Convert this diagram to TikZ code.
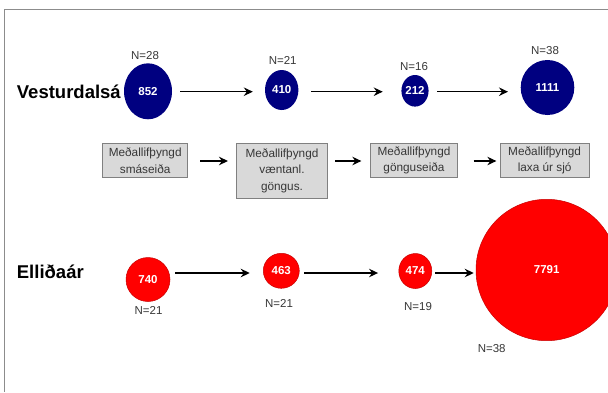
\documentclass[tikz,border=0pt]{standalone}
\usepackage{fontspec}
\setmainfont{Liberation Sans}
\usetikzlibrary{shapes.geometric,arrows.meta}
\definecolor{navyc}{RGB}{0,0,128}
\definecolor{redc}{RGB}{255,0,0}
\definecolor{rededge}{RGB}{200,0,0}
\definecolor{boxfill}{RGB}{217,217,217}
\definecolor{boxdraw}{RGB}{128,128,128}
\definecolor{txtgray}{RGB}{55,55,55}
\definecolor{framec}{RGB}{140,140,140}
\begin{document}
\begin{tikzpicture}[x=1pt,y=-1pt,
  bluecirc/.style={ellipse, fill=navyc, inner sep=0pt, text=white,
    font=\fontsize{11.5}{13}\selectfont\bfseries},
  redcirc/.style={ellipse, fill=redc, draw=rededge, line width=0.5pt, inner sep=0pt, text=white,
    font=\fontsize{11.5}{13}\selectfont\bfseries},
  nlab/.style={text=txtgray, inner sep=0pt, font=\fontsize{11.5}{13}\selectfont},
  infobox/.style={rectangle, fill=boxfill, draw=boxdraw, line width=0.7pt, align=center,
    inner sep=0pt, text=txtgray, font=\fontsize{11.8}{16.5}\selectfont},
  arr/.style={-{Stealth[length=9pt,width=8.5pt,inset=3pt]}, line width=1.3pt},
  rivertitle/.style={anchor=west, inner sep=0pt, font=\fontsize{18.5}{22}\selectfont\bfseries}
]
\useasboundingbox (0,0) rectangle (608,392);
\fill[white] (0,0) rectangle (608,392);
% frame
\coordinate (ftl) at (4.5,9);
\coordinate (ftr) at (608,9);
\coordinate (fbl) at (4.5,392);
\draw[framec, line width=0.8pt] (ftr) -- (ftl) -- (fbl);

% row reference lines
\coordinate (rowB) at (0,91.7);
\coordinate (rowM) at (0,161);
\coordinate (rowR) at (0,273);

% titles
\node[rivertitle] (tV) at (16.7,91.5) {Vesturdalsá};
\node[rivertitle] (tE) at (16.7,271.5) {Elliðaár};

% blue row
\node[bluecirc, minimum width=48pt, minimum height=56pt] (b1) at (148,91.3) {852};
\node[bluecirc, minimum width=33.4pt, minimum height=40pt] (b2) at (281.7,90) {410};
\node[bluecirc, minimum width=26.6pt, minimum height=31.6pt] (b3) at (415,90.8) {212};
\node[bluecirc, minimum width=53.6pt, minimum height=55pt] (b4) at (547.5,87.5) {1111};

\node[nlab] (nb1) at (145,56) {N=28};
\node[nlab] (nb2) at (282.7,60) {N=21};
\node[nlab] (nb3) at (414,66.7) {N=16};
\node[nlab] (nb4) at (545,50.7) {N=38};

\draw[arr] ([xshift=8pt]b1.east |- rowB) -- ([xshift=-12pt]b2.west |- rowB);
\draw[arr] ([xshift=12.5pt]b2.east |- rowB) -- ([xshift=-18.5pt]b3.west |- rowB);
\draw[arr] ([xshift=8.5pt]b3.east |- rowB) -- ([xshift=-12.5pt]b4.west |- rowB);

% middle boxes
\node[infobox, minimum width=85pt, minimum height=34.4pt] (m1) at (145.2,160.5) {Meðallifþyngd\\smáseiða};
\node[infobox, minimum width=90.6pt, minimum height=55pt] (m2) at (282,170.8) {Meðallifþyngd\\væntanl.\\göngus.};
\node[infobox, minimum width=86.6pt, minimum height=34.4pt] (m3) at (414,160.5) {Meðallifþyngd\\gönguseiða};
\node[infobox, minimum width=89.3pt, minimum height=34.4pt] (m4) at (544.65,160.5) {Meðallifþyngd\\laxa úr sjó};

\draw[arr] ([xshift=12.3pt]m1.east |- rowM) -- ([xshift=-8.4pt]m2.west |- rowM);
\draw[arr] ([xshift=7.7pt]m2.east |- rowM) -- ([xshift=-9pt]m3.west |- rowM);
\draw[arr] ([xshift=16pt]m3.east |- rowM) -- ([xshift=-3.3pt]m4.west |- rowM);

% red row
\node[redcirc, minimum width=44pt, minimum height=44pt] (r1) at (148,279.5) {740};
\node[redcirc, minimum width=36pt, minimum height=35pt] (r2) at (281.3,270.8) {463};
\node[redcirc, minimum width=33pt, minimum height=35pt] (r3) at (415.3,271) {474};
\node[redcirc, minimum width=141.4pt, minimum height=141.4pt] (r4) at (546.7,270) {7791};

\node[nlab] (nr1) at (148.5,310.7) {N=21};
\node[nlab] (nr2) at (279,303.3) {N=21};
\node[nlab] (nr3) at (418,306.7) {N=19};
\node[nlab] (nr4) at (491.7,348.3) {N=38};

\draw[arr] ([xshift=5pt]r1.east |- rowR) -- ([xshift=-13.3pt]r2.west |- rowR);
\draw[arr] ([xshift=4.7pt]r2.east |- rowR) -- ([xshift=-20.5pt]r3.west |- rowR);
\draw[arr] ([xshift=3.2pt]r3.east |- rowR) -- ([xshift=-2pt]r4.west |- rowR);
\end{tikzpicture}
\end{document}
